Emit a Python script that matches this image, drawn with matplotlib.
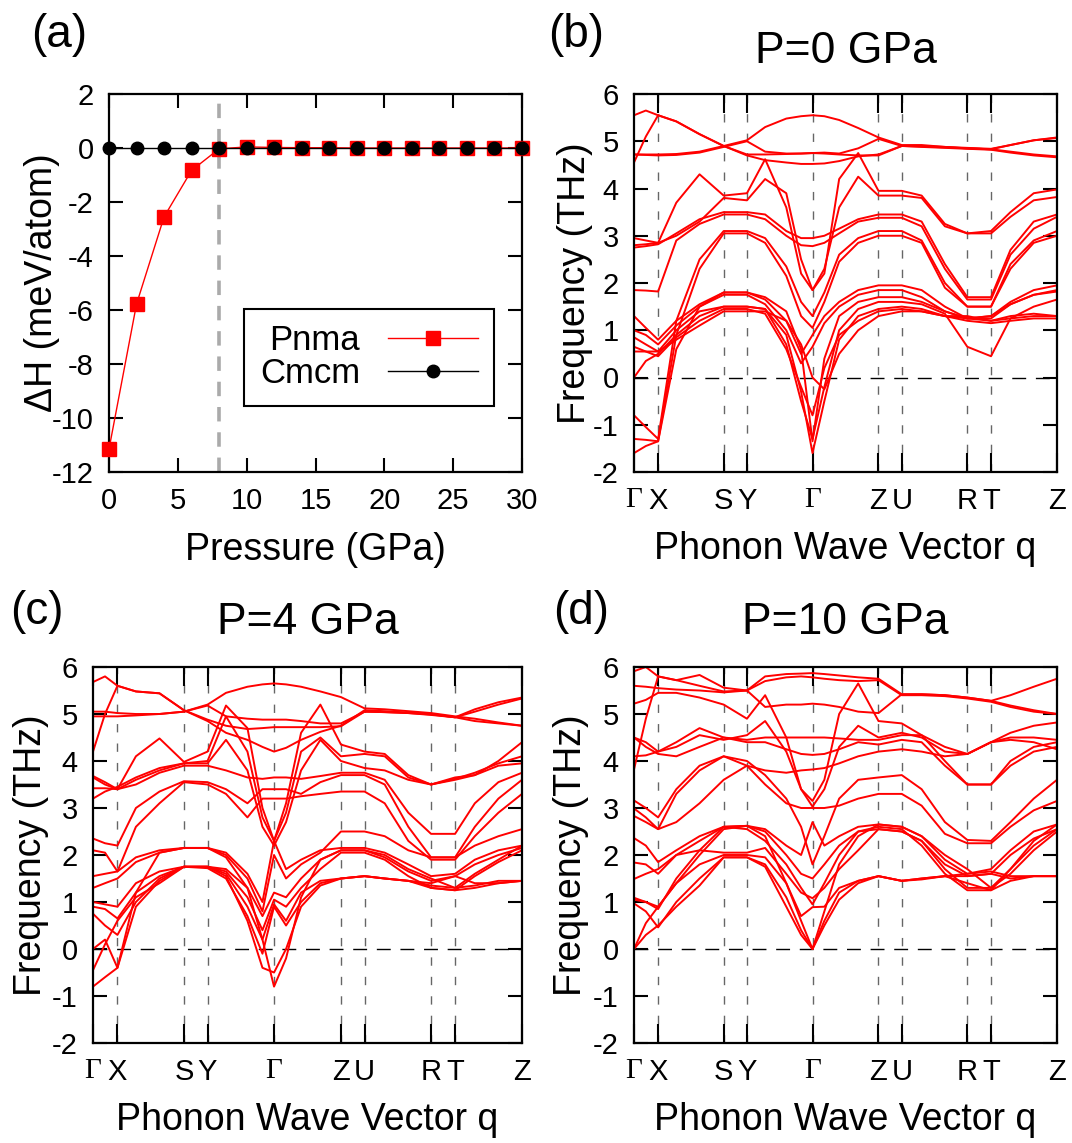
import numpy as np
import matplotlib.pyplot as plt

plt.rcParams['font.family'] = ['Liberation Sans', 'DejaVu Sans']
plt.rcParams['axes.unicode_minus'] = False

# ---- (a) enthalpy difference vs pressure ----
pressure = [0, 2, 4, 6, 8, 10, 12, 14, 16, 18, 20, 22, 24, 26, 28, 30]
dH_pnma = [-11.15, -5.78, -2.55, -0.83, -0.03, 0.04, 0.02, 0.01, 0.01, 0.0, 0.0, 0.0, 0.0, 0.0, 0.0, 0.0]
dH_cmcm = [0.0] * 16
p_transition = 8.0

# ---- phonon path ----
kpt_pos = [0.0, 0.057, 0.212, 0.267, 0.422, 0.578, 0.633, 0.788, 0.844, 1.0]
kpt_labels = ['Γ', 'X', 'S', 'Y', 'Γ', 'Z', 'U', 'R', 'T', 'Z']
q_grid = [0.0, 0.028, 0.057, 0.10, 0.155, 0.212, 0.267, 0.31, 0.36, 0.395, 0.422, 0.45,
          0.485, 0.53, 0.578, 0.633, 0.68, 0.735, 0.788, 0.844, 0.89, 0.945, 1.0]

# band frequencies (THz) read at q_grid
bands_0gpa = [
    [5.55, 5.65, 5.55, 5.42, 5.15, 4.90, 4.72, 4.72, 4.73, 4.74, 4.75, 4.74, 4.72, 4.70, 4.70, 4.90, 4.90, 4.88, 4.85, 4.83, 4.78, 4.72, 4.68],
    [4.55, 5.10, 5.55, 5.42, 5.15, 4.90, 4.70, 4.60, 4.55, 4.52, 4.52, 4.53, 4.58, 4.68, 4.72, 4.90, 4.88, 4.86, 4.84, 4.82, 4.76, 4.70, 4.66],
    [4.72, 4.72, 4.72, 4.73, 4.78, 4.90, 5.02, 5.30, 5.48, 5.53, 5.55, 5.53, 5.45, 5.28, 5.08, 4.92, 4.92, 4.88, 4.86, 4.84, 4.92, 5.02, 5.08],
    [4.72, 4.71, 4.70, 4.71, 4.76, 4.88, 5.00, 4.78, 4.74, 4.74, 4.75, 4.76, 4.74, 4.85, 5.05, 4.90, 4.89, 4.87, 4.85, 4.83, 4.92, 5.02, 5.07],
    [2.95, 2.90, 2.85, 3.70, 4.30, 3.85, 3.90, 4.62, 3.60, 2.20, 1.85, 2.20, 4.20, 4.75, 3.95, 3.95, 3.85, 3.25, 3.05, 3.10, 3.50, 3.90, 3.98],
    [2.80, 2.82, 2.85, 3.00, 3.30, 3.80, 3.75, 4.20, 3.90, 2.50, 1.85, 2.30, 3.60, 4.25, 3.85, 3.85, 3.80, 3.20, 3.05, 3.05, 3.40, 3.75, 3.82],
    [2.75, 2.78, 2.82, 3.05, 3.35, 3.50, 3.50, 3.45, 3.10, 2.95, 2.95, 3.00, 3.15, 3.35, 3.45, 3.45, 3.30, 2.40, 1.70, 1.70, 2.70, 3.30, 3.45],
    [1.85, 1.84, 1.82, 2.90, 3.25, 3.45, 3.45, 3.35, 3.00, 2.80, 2.78, 2.85, 3.05, 3.30, 3.38, 3.38, 3.20, 2.30, 1.65, 1.65, 2.60, 3.15, 3.40],
    [-0.80, -1.05, -1.30, 1.20, 2.50, 3.10, 3.10, 2.95, 2.35, 1.60, 1.30, 1.80, 2.60, 2.95, 3.10, 3.10, 2.90, 2.00, 1.50, 1.50, 2.40, 2.90, 3.10],
    [-1.30, -1.32, -1.35, 0.90, 2.30, 3.05, 3.05, 2.85, 2.15, 1.30, 1.05, 1.60, 2.45, 2.85, 3.00, 3.00, 2.85, 1.90, 1.50, 1.50, 2.30, 2.85, 3.00],
    [1.30, 1.05, 0.80, 1.20, 1.55, 1.80, 1.80, 1.65, 1.20, 0.50, 0.90, 1.30, 1.60, 1.85, 1.95, 1.95, 1.85, 1.50, 1.25, 1.30, 1.60, 1.85, 1.95],
    [1.00, 0.90, 0.70, 1.10, 1.50, 1.75, 1.75, 1.55, 1.00, 0.30, 0.65, 1.15, 1.50, 1.75, 1.85, 1.85, 1.70, 1.40, 1.25, 1.25, 1.55, 1.75, 1.82],
    [0.85, 0.70, 0.55, 1.00, 1.40, 1.50, 1.50, 1.45, 0.70, -0.50, -1.30, -0.20, 1.00, 1.45, 1.60, 1.60, 1.55, 1.35, 0.65, 0.45, 1.25, 1.50, 1.65],
    [0.00, 0.35, 0.50, 0.90, 1.30, 1.50, 1.50, 1.45, 0.90, -0.30, -1.60, -0.50, 0.80, 1.30, 1.45, 1.50, 1.45, 1.30, 1.30, 1.20, 1.30, 1.35, 1.30],
    [0.65, 0.55, 0.45, 0.85, 1.20, 1.45, 1.45, 1.35, 0.60, -0.20, -0.80, 0.20, 0.90, 1.20, 1.40, 1.45, 1.40, 1.30, 1.20, 1.15, 1.20, 1.25, 1.25],
    [-1.60, -1.45, -1.35, 0.60, 1.50, 1.80, 1.80, 1.70, 1.40, 0.60, -1.35, 0.40, 1.30, 1.60, 1.70, 1.70, 1.60, 1.40, 1.25, 1.30, 1.55, 1.75, 1.85],
    [0.55, 0.55, 0.55, 0.80, 1.10, 1.40, 1.40, 1.40, 1.20, 0.70, 0.00, -0.25, 0.50, 1.00, 1.30, 1.40, 1.40, 1.30, 1.25, 1.20, 1.25, 1.30, 1.30],
]

bands_4gpa = [
    [5.68, 5.80, 5.60, 5.48, 5.44, 5.08, 4.88, 4.75, 4.68, 4.70, 4.72, 4.72, 4.72, 4.72, 4.74, 5.05, 5.04, 5.02, 4.98, 4.93, 4.85, 4.80, 4.75],
    [4.20, 5.00, 5.60, 5.48, 5.44, 5.08, 4.85, 4.60, 4.45, 4.30, 4.20, 4.28, 4.45, 4.62, 4.75, 5.08, 5.06, 5.03, 5.00, 4.93, 5.10, 5.25, 5.35],
    [5.05, 5.05, 5.02, 5.00, 5.00, 5.05, 5.20, 5.45, 5.58, 5.63, 5.65, 5.63, 5.58, 5.48, 5.36, 5.12, 5.10, 5.06, 5.02, 4.95, 4.90, 4.82, 4.75],
    [4.95, 4.95, 4.95, 4.97, 5.00, 5.05, 5.18, 4.95, 4.90, 4.88, 4.88, 4.88, 4.85, 4.80, 4.80, 5.05, 5.04, 5.02, 4.99, 4.93, 5.05, 5.20, 5.33],
    [3.68, 3.55, 3.40, 4.10, 4.48, 3.98, 4.20, 5.18, 4.70, 3.00, 2.30, 3.10, 4.60, 5.20, 4.35, 4.20, 4.15, 3.70, 3.50, 3.65, 3.70, 4.00, 4.40],
    [3.42, 3.42, 3.40, 3.60, 3.80, 3.95, 4.00, 4.95, 4.20, 2.80, 2.30, 2.90, 4.20, 4.50, 4.10, 4.15, 4.10, 3.65, 3.50, 3.62, 3.75, 3.95, 4.10],
    [3.20, 3.35, 3.45, 3.65, 3.85, 3.95, 3.95, 4.45, 3.80, 2.60, 2.20, 2.70, 3.80, 4.45, 4.00, 3.85, 3.80, 3.60, 3.50, 3.60, 3.70, 3.90, 3.95],
    [3.65, 3.50, 3.40, 3.50, 3.75, 3.90, 3.90, 3.80, 3.65, 3.62, 3.65, 3.65, 3.62, 3.68, 3.75, 3.75, 3.60, 2.90, 2.45, 2.45, 3.10, 3.55, 3.75],
    [2.35, 2.25, 2.20, 3.00, 3.35, 3.57, 3.55, 3.40, 3.10, 3.40, 3.40, 3.40, 3.30, 3.55, 3.70, 3.70, 3.50, 2.60, 1.95, 1.95, 2.60, 3.20, 3.60],
    [2.10, 2.05, 1.65, 2.60, 3.10, 3.55, 3.50, 3.30, 2.80, 3.20, 3.20, 3.20, 3.25, 3.30, 3.35, 3.35, 3.10, 2.30, 1.90, 1.90, 2.40, 2.90, 3.30],
    [1.55, 1.60, 1.65, 1.95, 2.10, 2.15, 2.15, 2.05, 1.60, 1.00, 2.30, 1.70, 1.90, 2.10, 2.15, 2.15, 2.05, 1.80, 1.55, 1.60, 1.90, 2.10, 2.20],
    [1.30, 1.40, 1.50, 1.85, 2.05, 2.15, 2.15, 2.00, 1.50, 0.80, 2.00, 1.50, 1.80, 2.05, 2.50, 2.50, 2.40, 2.10, 1.95, 1.95, 2.20, 2.40, 2.55],
    [1.00, 0.95, 0.90, 1.40, 1.65, 1.75, 1.75, 1.70, 1.30, 0.70, 1.20, 1.10, 1.50, 1.90, 2.10, 2.10, 1.95, 1.65, 1.45, 1.55, 1.80, 2.00, 2.15],
    [0.90, 0.85, 0.65, 1.20, 1.55, 1.75, 1.75, 1.65, 1.10, 0.40, 1.05, 0.90, 1.30, 1.70, 2.05, 2.05, 1.90, 1.55, 1.30, 1.25, 1.55, 1.85, 2.10],
    [0.75, 0.50, 0.30, 1.00, 1.50, 1.75, 1.75, 1.60, 0.90, 0.20, 0.95, 0.60, 1.20, 1.45, 1.50, 1.55, 1.50, 1.45, 1.40, 1.55, 1.40, 1.40, 1.45],
    [0.00, 0.20, -0.40, 0.90, 1.45, 1.75, 1.72, 1.50, 0.70, -0.10, 0.90, 0.50, 1.00, 1.40, 1.50, 1.55, 1.50, 1.45, 1.35, 1.30, 1.35, 1.45, 1.45],
    [-0.45, 0.10, 0.60, 1.10, 1.40, 1.75, 1.75, 1.55, 0.60, -0.40, -0.50, 0.00, 0.90, 1.35, 1.50, 1.55, 1.50, 1.45, 1.30, 1.25, 1.30, 1.40, 1.45],
    [-0.80, -0.60, -0.40, 1.20, 2.05, 2.15, 2.15, 1.95, 1.30, 0.20, -0.80, -0.20, 1.10, 1.90, 2.10, 2.10, 2.00, 1.70, 1.50, 1.30, 1.60, 1.90, 2.20],
]

bands_10gpa = [
    [5.91, 6.00, 5.80, 5.72, 5.83, 5.56, 5.50, 5.80, 5.85, 5.86, 5.87, 5.85, 5.82, 5.78, 5.75, 5.42, 5.42, 5.40, 5.35, 5.28, 5.40, 5.58, 5.75],
    [3.82, 4.90, 5.80, 5.72, 5.60, 5.48, 5.50, 5.15, 5.20, 5.20, 5.22, 5.20, 5.15, 5.05, 5.02, 5.42, 5.42, 5.40, 5.35, 5.28, 5.18, 5.08, 5.00],
    [5.60, 5.58, 5.55, 5.52, 5.50, 5.46, 5.50, 5.70, 5.78, 5.80, 5.78, 5.75, 5.72, 5.70, 5.72, 5.40, 5.40, 5.38, 5.33, 5.26, 5.15, 5.05, 5.00],
    [5.22, 5.30, 5.45, 5.45, 5.35, 5.20, 4.90, 5.40, 4.50, 3.40, 3.15, 3.60, 5.00, 5.65, 4.85, 4.80, 4.55, 4.30, 4.15, 4.40, 4.60, 4.75, 4.82],
    [4.50, 4.40, 4.20, 4.30, 4.55, 4.45, 4.55, 4.85, 4.20, 3.40, 3.03, 3.40, 4.30, 4.75, 4.50, 4.60, 4.50, 4.20, 4.15, 4.40, 4.50, 4.50, 4.45],
    [4.10, 4.12, 4.20, 4.40, 4.70, 4.50, 4.45, 4.50, 4.50, 4.50, 4.50, 4.50, 4.48, 4.45, 4.45, 4.55, 4.55, 4.00, 3.50, 3.50, 3.90, 4.20, 4.30],
    [4.50, 4.30, 4.15, 4.10, 4.30, 4.50, 4.40, 4.40, 4.25, 4.15, 4.13, 4.15, 4.25, 4.40, 4.35, 4.45, 4.40, 3.90, 3.50, 3.50, 4.00, 4.30, 4.40],
    [3.16, 3.00, 2.80, 3.40, 3.90, 4.10, 4.00, 3.70, 3.20, 2.60, 1.80, 2.40, 3.20, 3.60, 3.65, 3.70, 3.40, 2.70, 2.32, 2.30, 2.70, 3.20, 3.60],
    [2.99, 2.80, 2.55, 3.30, 3.80, 4.10, 3.90, 3.50, 3.10, 3.00, 3.00, 3.00, 3.05, 3.20, 3.30, 3.30, 3.05, 2.45, 2.25, 2.25, 2.60, 2.95, 3.15],
    [2.83, 2.70, 2.55, 2.70, 3.10, 3.60, 3.90, 3.80, 3.75, 3.80, 3.82, 3.85, 3.95, 4.10, 4.20, 4.25, 4.20, 4.10, 4.15, 4.40, 4.45, 4.40, 4.25],
    [2.36, 2.20, 1.85, 2.10, 2.40, 2.60, 2.62, 2.55, 2.20, 2.00, 2.70, 2.20, 2.40, 2.60, 2.65, 2.60, 2.40, 1.90, 1.60, 1.70, 2.10, 2.50, 2.65],
    [1.84, 1.80, 1.60, 2.00, 2.30, 2.60, 2.62, 2.50, 2.00, 1.60, 1.50, 1.80, 2.20, 2.50, 2.55, 2.50, 2.30, 1.80, 1.55, 1.60, 2.00, 2.35, 2.55],
    [1.49, 1.60, 1.70, 2.00, 2.10, 2.05, 2.05, 2.15, 1.60, 1.20, 1.08, 1.30, 1.70, 2.10, 2.55, 2.50, 2.30, 1.70, 1.30, 1.30, 1.70, 2.20, 2.55],
    [1.09, 1.00, 0.90, 1.40, 1.80, 2.00, 2.00, 1.95, 1.40, 0.70, 0.89, 0.90, 1.30, 1.45, 1.55, 1.45, 1.50, 1.55, 1.60, 1.65, 1.55, 1.55, 1.55],
    [0.97, 0.80, 0.46, 1.00, 1.50, 1.95, 1.95, 1.80, 1.10, 0.40, 0.00, 0.60, 1.20, 1.45, 1.55, 1.45, 1.48, 1.55, 1.40, 1.25, 1.45, 1.55, 1.55],
    [0.00, 0.30, 0.50, 0.90, 1.35, 1.95, 1.95, 1.75, 0.90, 0.30, 0.00, 0.50, 1.05, 1.40, 1.55, 1.45, 1.50, 1.55, 1.55, 1.60, 1.50, 1.55, 1.55],
    [0.00, 0.55, 0.90, 1.40, 2.00, 2.55, 2.62, 2.40, 1.40, 0.60, 0.00, 0.80, 1.80, 2.40, 2.65, 2.60, 2.40, 2.00, 1.70, 1.30, 1.60, 2.10, 2.50],
    [1.05, 1.00, 0.85, 1.50, 2.10, 2.60, 2.55, 2.30, 1.80, 1.30, 0.95, 1.40, 2.00, 2.50, 2.60, 2.55, 2.20, 1.60, 1.25, 1.25, 1.70, 2.30, 2.65],
]

W, H = 1072, 1143
TICK_FS = 21
LABEL_FS = 27


def box(x0, y0, x1, y1):
    # pixel box -> figure coords
    return [x0 / W, 1 - y1 / H, (x1 - x0) / W, (y1 - y0) / H]


def style_axes(ax):
    for s in ax.spines.values():
        s.set_linewidth(1.6)
    ax.tick_params(direction='in', length=10, width=1.5, labelsize=TICK_FS,
                   top=True, right=True)
    ax.tick_params(axis='x', pad=11)
    ax.tick_params(axis='y', pad=11)


def plot_bands(ax, bands, title, title_pad):
    for b in bands:
        ax.plot(q_grid, b, color='#ff0000', lw=1.4, solid_joinstyle='round')
    for xp in kpt_pos[1:-1]:
        ax.axvline(xp, color='0.4', lw=1.0, dashes=(6, 8), zorder=0)
    ax.axhline(0, color='k', lw=1.0, dashes=(10, 7), zorder=0)
    ax.set_xlim(0, 1)
    ax.set_ylim(-2, 6)
    ax.set_xticks(kpt_pos)
    ax.set_xticklabels(kpt_labels)
    for t in ax.get_xticklabels():
        if t.get_text() == 'Γ':
            t.set_family('Liberation Serif')
            t.set_fontsize(TICK_FS + 3)
    ax.set_yticks(range(-2, 7))
    style_axes(ax)
    ax.tick_params(axis='x', length=14)
    ax.set_title(title, fontsize=32, pad=title_pad)
    ax.set_ylabel('Frequency (THz)', fontsize=LABEL_FS)
    ax.yaxis.label.set_va('center')
    ax.set_xlabel('Phonon Wave Vector q', fontsize=LABEL_FS)
    ax.xaxis.set_label_coords(0.5, -0.205)
    ax.xaxis.label.set_va('center')


fig = plt.figure(figsize=(W / 100, H / 100), dpi=100)

ax_a = fig.add_axes(box(109, 94, 522, 472))
ax_b = fig.add_axes(box(634, 94, 1057, 472))
ax_c = fig.add_axes(box(93, 667, 522, 1043))
ax_d = fig.add_axes(box(634, 667, 1057, 1043))

# panel (a)
ax_a.axvline(p_transition, color='#aaaaaa', lw=2.6, dashes=(4, 3), zorder=1)
ax_a.plot(pressure, dH_pnma, color='#ff0000', lw=1.0, marker='s', ms=10,
          mfc='#ff0000', mec='#ff0000', label='Pnma', clip_on=False, zorder=3)
ax_a.plot(pressure, dH_cmcm, color='k', lw=1.0, marker='o', ms=9,
          label='Cmcm', clip_on=False, zorder=4)
ax_a.set_xlim(0, 30)
ax_a.set_ylim(-12, 2)
ax_a.set_xticks(range(0, 31, 5))
ax_a.set_yticks(range(-12, 3, 2))
style_axes(ax_a)
ax_a.set_xlabel('Pressure (GPa)', fontsize=LABEL_FS)
ax_a.xaxis.set_label_coords(0.5, -0.206)
ax_a.xaxis.label.set_va('center')
ax_a.set_ylabel('ΔH (meV/atom)', fontsize=LABEL_FS)
ax_a.yaxis.label.set_va('center')
ax_a.yaxis.set_label_coords(-0.162, 0.5)
leg = ax_a.legend(loc='lower right', bbox_to_anchor=(0.932, 0.175), borderaxespad=0,
                  markerfirst=False, fontsize=25, handlelength=2.6, fancybox=False,
                  frameon=True, edgecolor='k', framealpha=1, borderpad=0.45,
                  labelspacing=0.0, handletextpad=0.8)
leg.get_frame().set_linewidth(1.5)

plot_bands(ax_b, bands_0gpa, 'P=0 GPa', 22)
ax_b.yaxis.set_label_coords(-0.139, 0.5)
plot_bands(ax_c, bands_4gpa, 'P=4 GPa', 24)
ax_c.yaxis.set_label_coords(-0.145, 0.5)
plot_bands(ax_d, bands_10gpa, 'P=10 GPa', 24)
ax_d.yaxis.set_label_coords(-0.149, 0.5)

for lbl, (x, y) in zip(['(a)', '(b)', '(c)', '(d)'],
                       [(59, 35), (576, 35), (37, 612), (581, 612)]):
    fig.text(x / W, 1 - y / H, lbl, fontsize=33, ha='center', va='center')

fig.savefig('out.png', dpi=100)
